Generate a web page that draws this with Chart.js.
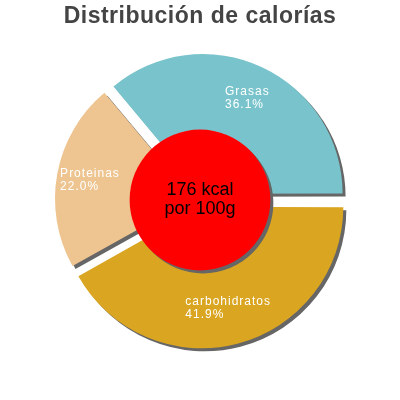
<!DOCTYPE html>
<html>
<head>
<meta charset="utf-8">
<script src="https://cdn.jsdelivr.net/npm/chart.js@4/dist/chart.umd.min.js"></script>
<style>
  html, body { margin: 0; padding: 0; background: #fff; }
  #chart { display: block; }
</style>
</head>
<body>
<canvas id="chart" width="400" height="400"></canvas>
<script>
// Data, clockwise from 3 o'clock
const categories = ["carbohidratos", "Proteinas", "Grasas"];
const percents = [41.9, 22.0, 36.1];
const sliceColors = ["#DAA520", "#EEC591", "#79C4CC"];
const centerLines = ["176 kcal", "por 100g"];
const titleText = "Distribución de calorías";

const FONT = "'Liberation Sans', Arial, sans-serif";

// drop shadow under the slices
const shadowPlugin = {
  id: "shadow",
  beforeDraw(chart) {
    chart.ctx.letterSpacing = "0.5px"; // for the title
  },
  beforeDatasetsDraw(chart) {
    const ctx = chart.ctx;
    ctx.save();
    ctx.shadowColor = "#666";
    ctx.shadowOffsetX = 3;
    ctx.shadowOffsetY = 3;
    ctx.shadowBlur = 0;
  },
  afterDatasetsDraw(chart) {
    chart.ctx.restore();
  }
};

// red disc in the middle plus slice labels
const centerPlugin = {
  id: "center",
  afterDatasetsDraw(chart) {
    const ctx = chart.ctx;
    const arcs = chart.getDatasetMeta(0).data;
    const cx = arcs[0].x, cy = arcs[0].y;
    const r = arcs[0].outerRadius * 0.51;

    ctx.save();
    ctx.shadowColor = "#666";
    ctx.shadowOffsetX = 3;
    ctx.shadowOffsetY = 3;
    ctx.beginPath();
    ctx.arc(cx, cy, r, 0, Math.PI * 2);
    ctx.fillStyle = "#FF0000";
    ctx.fill();
    ctx.restore();

    ctx.save();
    ctx.letterSpacing = "0px";
    ctx.fillStyle = "#000";
    ctx.font = "18px " + FONT;
    ctx.textAlign = "center";
    ctx.textBaseline = "middle";
    ctx.fillText(centerLines[0], cx, cy - 10);
    ctx.fillText(centerLines[1], cx, cy + 9);
    ctx.restore();

    // labels
    ctx.save();
    ctx.letterSpacing = "1px";
    ctx.font = "12px " + FONT;
    ctx.fillStyle = "#fff";
    ctx.textAlign = "left";
    ctx.textBaseline = "middle";
    arcs.forEach((arc, i) => {
      const mid = (arc.startAngle + arc.endAngle) / 2;
      const dist = arc.outerRadius * 0.76 + (arc.options.offset || 0) / 4;
      const px = arc.x + Math.cos(mid) * dist;
      const py = arc.y + Math.sin(mid) * dist;
      const l1 = categories[i];
      const l2 = percents[i].toFixed(1) + "%";
      const w = Math.max(ctx.measureText(l1).width, ctx.measureText(l2).width);
      ctx.fillText(l1, px - w / 2, py - 6.5);
      ctx.fillText(l2, px - w / 2, py + 6.5);
    });
    ctx.restore();
  }
};

new Chart(document.getElementById("chart"), {
  type: "pie",
  data: {
    labels: categories,
    datasets: [{
      data: percents,
      backgroundColor: sliceColors,
      borderWidth: 0,
      offset: 28
    }]
  },
  options: {
    responsive: false,
    animation: false,
    events: [],
    rotation: 90,
    radius: 138,
    layout: { padding: { top: 0, bottom: 40.6, left: 0, right: 0 } },
    plugins: {
      legend: { display: false },
      tooltip: { enabled: false },
      title: {
        display: true,
        text: titleText,
        color: "#444",
        font: { family: FONT, size: 23, weight: "bold", lineHeight: 1.2 },
        padding: { top: 3, bottom: 10 }
      }
    }
  },
  plugins: [shadowPlugin, centerPlugin]
});
</script>
</body>
</html>
